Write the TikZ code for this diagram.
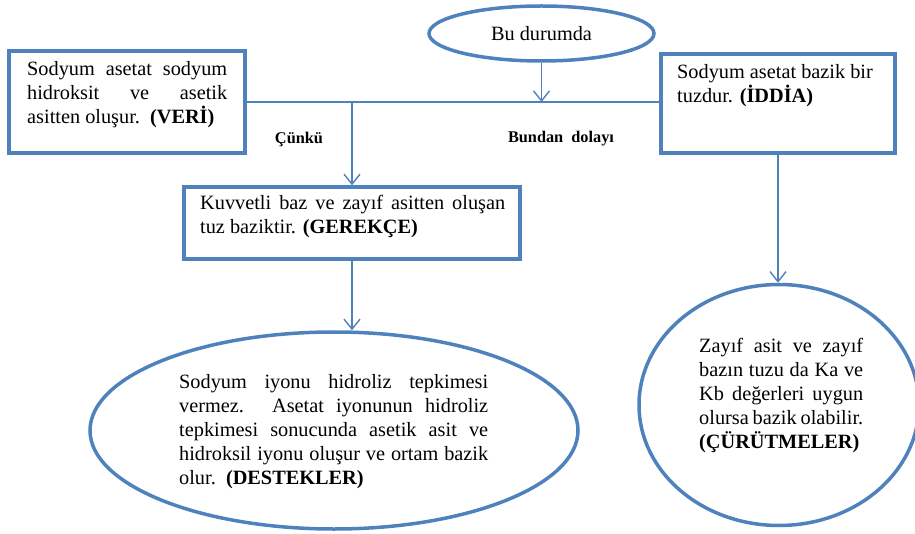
\documentclass[tikz,border=0pt]{standalone}
\usepackage{fontspec}
\setmainfont{Liberation Serif}
\usepackage{tikz}
\usetikzlibrary{shapes.geometric,arrows.meta}
\definecolor{kutumavi}{RGB}{79,129,189}
\newcommand{\jline}[2]{\makebox[#1][s]{#2}}

\begin{document}
\begin{tikzpicture}[x=1pt,y=-1pt, inner sep=0pt, >={Straight Barb[length=10pt,width=16pt]},
  kutu/.style={rectangle,draw=kutumavi,line width=3.5pt},
  balon/.style={ellipse,draw=kutumavi,line width=3.5pt},
  conn/.style={draw=kutumavi,line width=1.4pt},
  yazi/.style={anchor=north west,align=left,font=\fontsize{20.3}{24}\selectfont},
  baglac/.style={font=\fontsize{16.3}{19}\selectfont\bfseries}]
\useasboundingbox (0,0) rectangle (915,534);
% kutular ve balonlar
\node (veri) at (127,102) [kutu,minimum width=236pt,minimum height=102pt] {};
\node (iddia) at (778,103.5) [kutu,minimum width=234pt,minimum height=99pt] {};
\node (gerekce) at (352,223) [kutu,minimum width=336pt,minimum height=72pt] {};
\node (durum) at (541.5,33.5) [balon,minimum width=225pt,minimum height=55pt,font=\fontsize{20.3}{24}\selectfont] {Bu durumda};
\node (destek) at (334,430.5) [balon,minimum width=488pt,minimum height=197pt] {};
\node (curut) at (779,405) [balon,minimum width=280pt,minimum height=241pt] {};
% metinler
\node (veritxt) at (27,61) [yazi] {\jline{200pt}{Sodyum asetat sodyum}\\
  \jline{200pt}{hidroksit ve asetik}\\
  asitten oluşur.\ \ \textbf{(VERİ)}};
\node (iddiatxt) at (677,64) [yazi] {Sodyum asetat bazik bir\\
  tuzdur. \textbf{(İDDİA)}};
\node (gerekcetxt) at (200,195) [yazi] {\jline{305pt}{Kuvvetli baz ve zayıf asitten oluşan}\\
  tuz baziktir. \textbf{(GEREKÇE)}};
\node (destektxt) at (179,374) [yazi] {\jline{309pt}{Sodyum iyonu hidroliz tepkimesi}\\
  \jline{309pt}{vermez. Asetat iyonunun hidroliz}\\
  \jline{309pt}{tepkimesi sonucunda asetik asit ve}\\
  \jline{309pt}{hidroksil iyonu oluşur ve ortam bazik}\\
  olur.\ \ \textbf{(DESTEKLER)}};
\node (curuttxt) at (699,338) [yazi] {\jline{164pt}{Zayıf asit ve zayıf}\\
  \jline{164pt}{bazın tuzu da Ka ve}\\
  \jline{164pt}{Kb değerleri uygun}\\
  \jline{164pt}{olursa bazik olabilir.}\\
  \textbf{(ÇÜRÜTMELER)}};
\node (cunku) at (299,140) [baglac] {Çünkü};
\node (dolayi) at (561,139) [baglac] {Bundan\ \ dolayı};
% baglantilar
\coordinate (j1) at (durum.south |- veri.east);
\coordinate (j2) at (gerekce.north |- veri.east);
\draw[conn] (veri.east) -- (veri.east -| iddia.west);
\draw[conn,->] (durum.south) -- (j1);
\draw[conn,->] (j2) -- (gerekce.north);
\draw[conn,->] (gerekce.south) -- (gerekce.south |- destek.north);
\draw[conn,->] (iddia.south) -- (iddia.south |- curut.north);
\end{tikzpicture}
\end{document}
